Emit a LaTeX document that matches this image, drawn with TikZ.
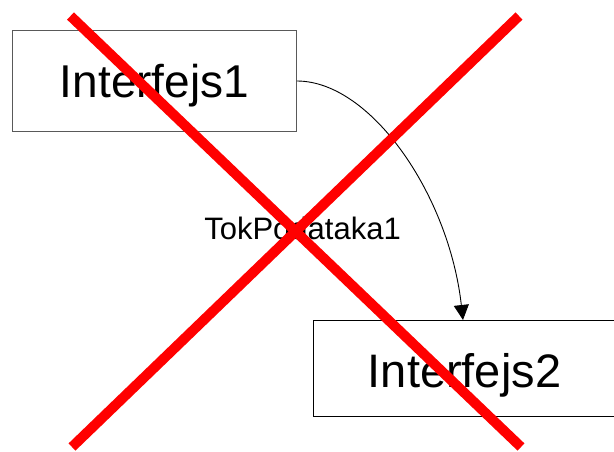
\documentclass[tikz,border=0pt]{standalone}
\usepackage{fontspec}
\setmainfont{Liberation Sans}
\usetikzlibrary{arrows.meta}
\begin{document}
\begin{tikzpicture}[x=1pt,y=-1pt,
  boxone/.style={draw=black!65, line width=0.8pt, minimum width=284pt, minimum height=100.5pt, inner sep=0pt, text depth=0pt, font=\fontsize{46}{50}\selectfont},
  boxtwo/.style={draw=black, line width=1.5pt, minimum width=340pt, minimum height=96pt, inner sep=0pt, text depth=0pt, font=\fontsize{47}{51}\selectfont},
  flowlabel/.style={font=\fontsize{31}{34}\selectfont, inner sep=0pt, anchor=base},
  flow/.style={draw=black, line width=0.9pt, -{Triangle[length=15pt,width=15pt]}},
  strike/.style={draw=red, line width=10pt, line cap=butt}]
\useasboundingbox (0,0) rectangle (614,451);
\clip (0,0) rectangle (614,451);
\node[boxone] (b1) at (154.5,81) {Interfejs1};
\node[boxtwo, anchor=west] (b2) at (312.5,368.7) {};
\node[font=\fontsize{47}{51}\selectfont, inner sep=0pt, text depth=0pt] (t2) at (464.5,370) {Interfejs2};
\node[flowlabel] (lbl) at (302.5,239.3) {TokPodataka1};
\draw[flow] (b1.east) .. controls +(74,0) and +(-14,-125) .. ([xshift=150.5pt]b2.north west);
\coordinate (s1) at (70.5,16);
\coordinate (e1) at (521,447);
\coordinate (s2) at (519,16);
\coordinate (e2) at (72,447);
\draw[strike] (s1) -- (e1);
\draw[strike] (s2) -- (e2);
\end{tikzpicture}
\end{document}
